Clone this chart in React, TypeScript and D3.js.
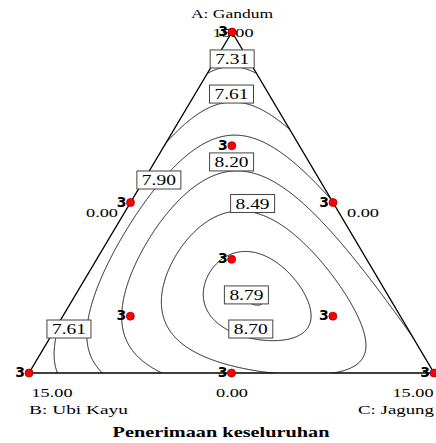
import React, { useMemo } from "react";
import * as d3 from "d3";

// Scheffé full-cubic mixture model of "Penerimaan keseluruhan"
const linearCoef = [7.05, 7.4, 8.22]; // A, B, C
const binaryCoef = [2.025, 1.1, 2.46]; // AB, AC, BC
const cubicCoef = [0.0135, 0, -0.15]; // AB(A-B), AC(A-C), BC(B-C)
const ternaryCoef = 14.6; // ABC

const contourLevels = [7.31, 7.61, 7.9, 8.2, 8.49, 8.7, 8.79];

// Labels written on the contours
const contourLabels = ["7.31", "7.61", "7.90", "8.20", "8.49", "8.79", "8.70", "7.61"];

// Design runs (A, B, C proportions) and their replicate counts
const designA = [1, 0, 0, 0.5, 0.5, 0, 0.6667, 0.1667, 0.1667, 0.3333];
const designB = [0, 1, 0, 0.5, 0, 0.5, 0.1667, 0.6667, 0.1667, 0.3333];
const designC = [0, 0, 1, 0, 0.5, 0.5, 0.1667, 0.1667, 0.6667, 0.3333];
const replicates = [3, 3, 3, 3, 3, 3, 3, 3, 3, 3];

const componentNames = ["A: Gandum", "B: Ubi Kayu", "C: Jagung"];
const chartTitle = "Penerimaan keseluruhan";

// ---- layout ----
const W = 436;
const H = 443;
const vA = [232, 32];
const vB = [29, 373];
const vC = [434, 373];

// where each contour label sits, as (A, C) proportions
const labelSpots: [number, number][] = [
  [0.921, 0.04],
  [0.818, 0.09],
  [0.566, 0.037],
  [0.619, 0.19],
  [0.497, 0.303],
  [0.229, 0.422],
  [0.129, 0.483],
  [0.129, 0.034],
];

function model(a: number, b: number, c: number) {
  return (
    linearCoef[0] * a +
    linearCoef[1] * b +
    linearCoef[2] * c +
    binaryCoef[0] * a * b +
    binaryCoef[1] * a * c +
    binaryCoef[2] * b * c +
    cubicCoef[0] * a * b * (a - b) +
    cubicCoef[1] * a * c * (a - c) +
    cubicCoef[2] * b * c * (b - c) +
    ternaryCoef * a * b * c
  );
}

// A proportion runs along y, C proportion along x (at fixed A)
const yScale = d3.scaleLinear().domain([0, 1]).range([vB[1], vA[1]]);
function project(a: number, b: number, c: number): [number, number] {
  return [a * vA[0] + b * vB[0] + c * vC[0], yScale(a)];
}
function unproject(x: number, y: number): [number, number, number] {
  const a = yScale.invert(y);
  const left = vB[0] + (vA[0] - vB[0]) * a;
  const c = (x - left) / (vC[0] - vB[0]);
  return [a, 1 - a - c, c];
}

const serif = "'Liberation Serif', 'Times New Roman', serif";

function FitText(props: {
  x: number;
  y: number;
  w: number;
  size: number;
  children: string;
  anchor?: "start" | "middle" | "end";
  weight?: string;
}) {
  const { x, y, w, size, children, anchor = "middle", weight = "normal" } = props;
  const x0 = anchor === "middle" ? x - w / 2 : anchor === "end" ? x - w : x;
  return (
    <text
      x={x0}
      y={y}
      fontFamily={serif}
      fontSize={size}
      fontWeight={weight}
      textLength={w}
      lengthAdjust="spacingAndGlyphs"
      fill="#000"
    >
      {children}
    </text>
  );
}

export default function App() {
  const step = 1;
  const x0 = 14;
  const y0 = 20;
  const nx = Math.ceil((450 - x0) / step);
  const ny = Math.ceil((385 - y0) / step);

  const contourPaths = useMemo(() => {
    const values = new Array(nx * ny);
    for (let j = 0; j < ny; j++) {
      for (let i = 0; i < nx; i++) {
        const [a, b, c] = unproject(x0 + (i + 0.5) * step, y0 + (j + 0.5) * step);
        values[j * nx + i] = model(a, b, c);
      }
    }
    const gen = d3.contours().size([nx, ny]).thresholds(contourLevels);
    const path = d3.geoPath(d3.geoIdentity().scale(step).translate([x0, y0]));
    return gen(values).map((g) => path(g) || "");
  }, []);

  const tri = `M${vA[0]},${vA[1]}L${vB[0]},${vB[1]}L${vC[0]},${vC[1]}Z`;

  return (
    <svg
      width={W}
      height={H}
      style={{ position: "fixed", left: 0, top: 0, background: "#fff" }}
    >
      <defs>
        <clipPath id="tri-clip">
          <path d={tri} />
        </clipPath>
      </defs>
      <rect width={W} height={H} fill="#fff" />

      <g clipPath="url(#tri-clip)">
        {contourPaths.map((d, i) => (
          <path key={i} d={d} fill="none" stroke="#000" strokeWidth={0.9} />
        ))}
      </g>

      <path d={tri} fill="none" stroke="#000" strokeWidth={1.4} strokeLinejoin="miter" />

      {contourLabels.map((t, i) => {
        const [a, c] = labelSpots[i];
        const [px, py] = project(a, 1 - a - c, c);
        return (
          <g key={i}>
            <rect
              x={px - 22}
              y={py - 9}
              width={44}
              height={18}
              fill="#fff"
              stroke="#444"
              strokeWidth={1}
            />
            <FitText x={px} y={py + 5} w={34} size={14}>
              {t}
            </FitText>
          </g>
        );
      })}

      {/* axis annotations */}
      <FitText x={232} y={18} w={82} size={12}>
        {componentNames[0]}
      </FitText>
      <FitText x={233} y={37} w={41} size={12}>
        15.00
      </FitText>
      <FitText x={102} y={217} w={32} size={12}>
        0.00
      </FitText>
      <FitText x={363} y={217} w={32} size={12}>
        0.00
      </FitText>
      <FitText x={52} y={397} w={41} size={12}>
        15.00
      </FitText>
      <FitText x={232} y={397} w={32} size={12}>
        0.00
      </FitText>
      <FitText x={413} y={397} w={41} size={12}>
        15.00
      </FitText>
      <FitText x={29} y={414} w={99} size={12} anchor="start">
        {componentNames[1]}
      </FitText>
      <FitText x={434} y={414} w={76} size={12} anchor="end">
        {componentNames[2]}
      </FitText>
      <FitText x={221} y={437} w={217} size={15} weight="bold">
        {chartTitle}
      </FitText>

      {/* design points */}
      {designA.map((a, i) => {
        const [px, py] = project(a, designB[i], designC[i]);
        return (
          <g key={i}>
            <text
              x={px - 4}
              y={py + 4}
              textAnchor="end"
              fontFamily="'DejaVu Sans', sans-serif"
              fontWeight="bold"
              fontSize={14}
              fill="#000"
            >
              {String(replicates[i])}
            </text>
            <circle cx={px} cy={py} r={4} fill="#ff0000" stroke="#a00000" strokeWidth={0.8} />
          </g>
        );
      })}
    </svg>
  );
}
